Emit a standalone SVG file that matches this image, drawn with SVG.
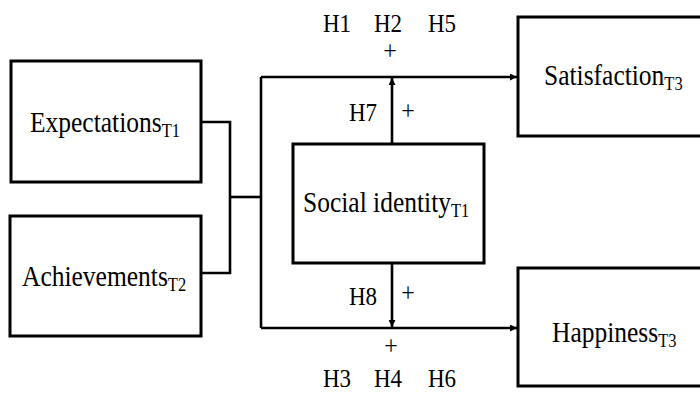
<svg xmlns="http://www.w3.org/2000/svg" width="700" height="393" viewBox="0 0 700 393">
<style>
.box{fill:#fff;stroke:#000;stroke-width:3}
.ln{fill:none;stroke:#000;stroke-width:2.6}
.t{font-family:"Liberation Serif","Times New Roman",serif;font-size:25.5px;fill:#000}
.h{font-family:"Liberation Serif","Times New Roman",serif;font-size:23px;fill:#000}
.pl{font-family:"Liberation Serif","Times New Roman",serif;font-size:24px;fill:#000;text-anchor:middle}
.sub{font-size:16.5px}
</style>
<defs>
<marker id="ah" viewBox="0 0 10 10" refX="10" refY="5" markerWidth="8" markerHeight="7" markerUnits="userSpaceOnUse" orient="auto">
<path d="M0,0 L10,5 L0,10 z" fill="#000"/>
</marker>
</defs>
<g id="connectors">
<polyline class="ln" points="201,122 230,122 230,273 201,273"/>
<line class="ln" x1="230" y1="197" x2="261" y2="197"/>
<line class="ln" x1="261" y1="77" x2="261" y2="328"/>
<line class="ln" x1="261" y1="77" x2="517" y2="77" marker-end="url(#ah)"/>
<line class="ln" x1="261" y1="328" x2="517" y2="328" marker-end="url(#ah)"/>
<line class="ln" x1="392" y1="144" x2="392" y2="78" marker-end="url(#ah)"/>
<line class="ln" x1="392" y1="263" x2="392" y2="327" marker-end="url(#ah)"/>
</g>
<g id="expectations">
<rect class="box" x="11" y="61" width="190" height="121"/>
<text class="t" transform="translate(30,132) scale(1,1.12)">Expectations<tspan class="sub" dy="4.5">T1</tspan></text>
</g>
<g id="achievements">
<rect class="box" x="10" y="216" width="191" height="120"/>
<text class="t" transform="translate(22,286) scale(1,1.12)">Achievements<tspan class="sub" dy="4.5">T2</tspan></text>
</g>
<g id="social-identity">
<rect class="box" x="293" y="144" width="191" height="119"/>
<text class="t" transform="translate(303,212) scale(1,1.12)">Social identity<tspan class="sub" dy="4.5">T1</tspan></text>
</g>
<g id="satisfaction">
<rect class="box" x="518" y="17" width="190" height="119"/>
<text class="t" transform="translate(544,85) scale(1,1.12)">Satisfaction<tspan class="sub" dy="4.5">T3</tspan></text>
</g>
<g id="happiness">
<rect class="box" x="518" y="268" width="190" height="118"/>
<text class="t" transform="translate(552,342) scale(1,1.12)">Happiness<tspan class="sub" dy="4.5">T3</tspan></text>
</g>
<g id="labels" fill="#000">
<text class="h" transform="translate(323,32) scale(1,1.12)">H1</text>
<text class="h" transform="translate(374,32) scale(1,1.12)">H2</text>
<text class="h" transform="translate(428,32) scale(1,1.12)">H5</text>
<text class="pl" fill="#000" transform="translate(390,59.5) scale(1,1.12)">+</text>
<text class="h" transform="translate(349,121) scale(1,1.12)">H7</text>
<text class="pl" fill="#000" transform="translate(408,119.5) scale(1,1.12)">+</text>
<text class="h" transform="translate(349,305) scale(1,1.12)">H8</text>
<text class="pl" fill="#000" transform="translate(408,301.5) scale(1,1.12)">+</text>
<text class="pl" fill="#000" transform="translate(391,354.5) scale(1,1.12)">+</text>
<text class="h" transform="translate(323,387) scale(1,1.12)">H3</text>
<text class="h" transform="translate(374,387) scale(1,1.12)">H4</text>
<text class="h" transform="translate(428,387) scale(1,1.12)">H6</text>
</g>
</svg>
